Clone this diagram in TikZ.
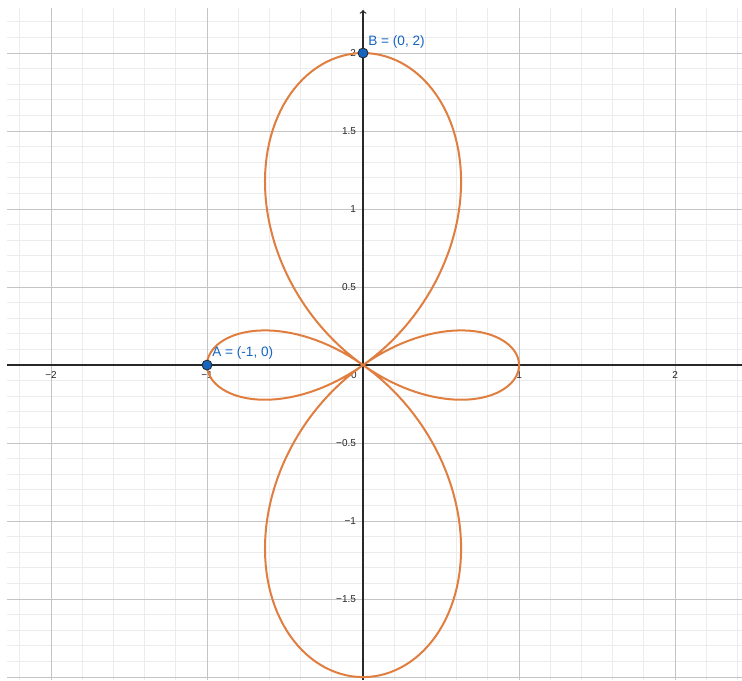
\documentclass[tikz,border=0pt]{standalone}
\usepackage{fontspec}
\setmainfont{Liberation Sans}
\definecolor{curveorange}{RGB}{224,126,64}
\definecolor{ptblue}{RGB}{21,101,192}
\definecolor{majorgray}{RGB}{196,196,196}
\definecolor{minorgray}{RGB}{236,236,236}
\definecolor{axisgray}{RGB}{40,40,40}
\begin{document}
\begin{tikzpicture}[x=117pt,y=117pt,
minor/.style={minorgray,line width=0.75pt},
major/.style={majorgray,line width=0.75pt},
axis/.style={axisgray,line width=0.9pt},
curve/.style={curveorange,line width=1.5pt,line join=round},
pt/.style={circle,draw=black!85,fill=ptblue,line width=0.6pt,inner sep=0pt,minimum size=7.5pt},
ptlabel/.style={text=ptblue,font=\fontsize{10.2}{12}\selectfont,inner sep=1pt,anchor=base west},
tick/.style={font=\fontsize{7.5}{9}\selectfont,text=black!85,inner sep=1pt}]
\useasboundingbox[fill=white] (-2.327,-2.019) rectangle (2.429,2.340);
\foreach \x in {-2.2,-2,...,2.41} \draw[minor] (\x,-2.019) -- (\x,2.288);
\foreach \y in {-2,-1.9,...,2.25} \draw[minor] (-2.282,\y) -- (2.429,\y);
\foreach \x in {-2,-1,1,2} \draw[major] (\x,-2.019) -- (\x,2.288);
\foreach \y in {-2,-1.5,-1,-0.5,0.5,1,1.5,2} \draw[major] (-2.282,\y) -- (2.429,\y);
\draw[axis] (-2.282,0) -- (2.429,0);
\draw[axis,->] (0,-2.019) -- (0,2.276);
\foreach \x/\lab [count=\i] in {-2/−2,-1/−1,1/1,2/2} \node[tick,anchor=north] (xt\i) at (\x,-0.03) {\lab};
\node[tick,anchor=north east] (xt0) at (-0.03,-0.03) {0};
\foreach \y/\lab [count=\i] in {2/2,1.5/1.5,1/1,0.5/0.5,-0.5/−0.5,-1/−1,-1.5/−1.5} \node[tick,anchor=east] (yt\i) at (-0.035,\y) {\lab};
\draw[curve] plot[domain=0:360,samples=361,variable=\t] ({(1-3*sin(\t)*sin(\t))*cos(\t)},{(1-3*sin(\t)*sin(\t))*sin(\t)});
\node[pt] (A) at (-1,0) {};
\node[pt] (B) at (0,2) {};
\node[ptlabel] (Alab) at ([shift={(2.8pt,6.75pt)}]A.center) {A = (-1, 0)};
\node[ptlabel] (Blab) at ([shift={(2.8pt,6pt)}]B.center) {B = (0, 2)};
\end{tikzpicture}
\end{document}
